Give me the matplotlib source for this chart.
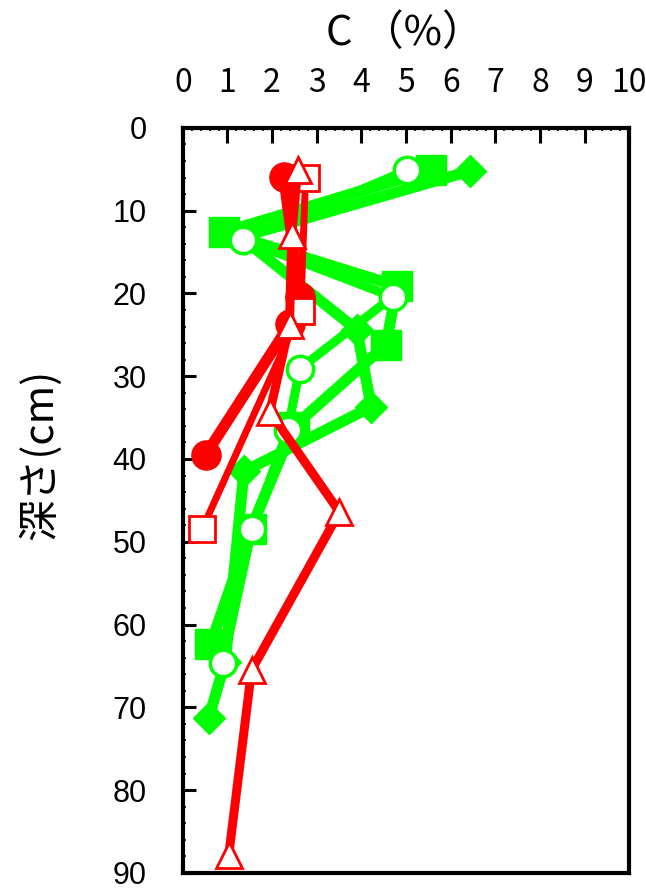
import matplotlib
matplotlib.use("Agg")
import matplotlib.pyplot as plt
from matplotlib.ticker import MultipleLocator

# ── data (C %, depth cm) ─────────────────────────────────────────────────────

red_circle_c = [2.26, 2.62, 2.40, 0.51]
red_circle_d = [5.9, 20.4, 23.7, 39.5]

red_square_c = [2.75, 2.64, 0.43]
red_square_d = [6.0, 22.1, 48.5]

red_tri_c = [2.57, 2.44, 2.39, 1.95, 3.51, 1.54, 1.03]
red_tri_d = [5.1, 12.9, 23.8, 34.3, 46.4, 65.5, 87.8]

green_diamond_c = [6.44, 1.30, 3.90, 4.22, 1.37, 0.95, 0.58]
green_diamond_d = [5.2, 13.2, 24.4, 33.7, 41.5, 64.5, 71.3]

green_square_c = [5.55, 0.92, 4.80, 4.55, 2.48, 1.52, 0.62]
green_square_d = [5.1, 12.6, 19.1, 26.2, 36.1, 48.5, 62.4]

green_circle_c = [5.03, 1.34, 4.70, 2.62, 2.35, 1.55, 0.90]
green_circle_d = [5.1, 13.5, 20.4, 29.1, 36.5, 48.5, 64.6]

x_ticks = list(range(0, 11))
y_ticks = list(range(0, 91, 10))

RED = "#ff0000"
GREEN = "#00ff00"

fig = plt.figure(figsize=(6.46, 8.88), dpi=100)
ax = fig.add_axes([0.283, 0.017, 0.691, 0.839])

# green series first, red on top
ax.plot(green_square_c, green_square_d, color=GREEN, lw=8, marker="s",
        ms=21, mfc=GREEN, mec=GREEN, zorder=3)
ax.plot(green_diamond_c, green_diamond_d, color=GREEN, lw=8, marker="D",
        ms=16, mfc=GREEN, mec=GREEN, zorder=3)
ax.plot(green_circle_c, green_circle_d, color=GREEN, lw=6.5, marker="o",
        ms=19, mfc="white", mec=GREEN, mew=2.5, zorder=4)

ax.plot(red_circle_c, red_circle_d, color=RED, lw=8, marker="o",
        ms=21, mfc=RED, mec=RED, zorder=5)
ax.plot(red_square_c, red_square_d, color=RED, lw=5, marker="s",
        ms=19, mfc="white", mec=RED, mew=2, zorder=6)
ax.plot(red_tri_c, red_tri_d, color=RED, lw=6.5, marker="^",
        ms=19, mfc="white", mec=RED, mew=2, zorder=7)

ax.set_xlim(0, 10)
ax.set_ylim(90, 0)

ax.xaxis.set_major_locator(MultipleLocator(1))
ax.xaxis.set_minor_locator(MultipleLocator(0.2))
ax.yaxis.set_major_locator(MultipleLocator(10))
ax.yaxis.set_minor_locator(MultipleLocator(2))

ax.xaxis.tick_top()
ax.set_xticks(x_ticks)
ax.set_yticks(y_ticks)
ax.set_xticklabels([str(v) for v in x_ticks], family="Noto Sans CJK JP",
                   fontsize=23)
ax.set_yticklabels([str(v) for v in y_ticks], family="Liberation Sans",
                   fontsize=22)

ax.tick_params(axis="x", which="major", direction="in", length=11, width=2.2,
               pad=21, top=True, bottom=False)
ax.tick_params(axis="x", which="minor", direction="in", length=2.5, width=1.2,
               top=True, bottom=False)
ax.tick_params(axis="y", which="major", direction="in", length=9, width=2.2,
               pad=26, left=True, right=False)
ax.tick_params(axis="y", which="minor", direction="in", length=2.5, width=1.2,
               left=True, right=False)

for s in ax.spines.values():
    s.set_linewidth(3)

fig.text(0.627, 0.962, "C （%）", ha="center", va="center",
         family="Noto Sans CJK JP", fontsize=30)
fig.text(0.062, 0.488, "深さ(cm)", ha="center", va="center", rotation=90,
         family=["Noto Sans CJK JP", "DejaVu Sans"], fontsize=30)

fig.savefig("out.png", dpi=100)
